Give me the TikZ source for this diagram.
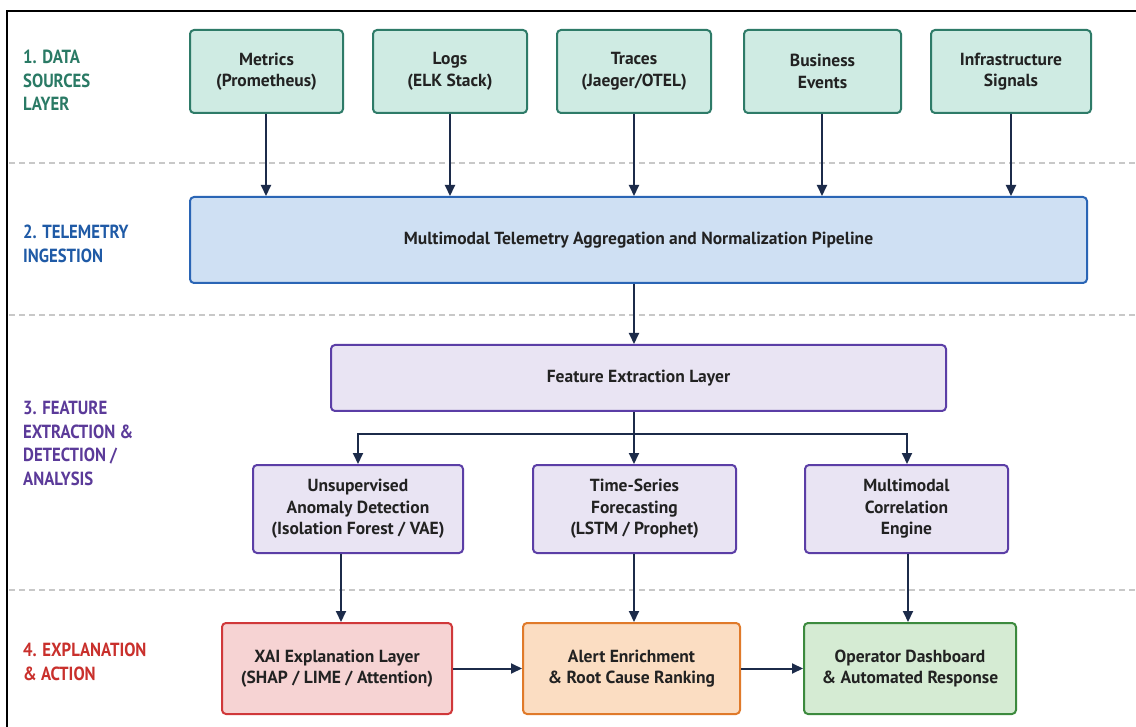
\documentclass[tikz,border=0pt]{standalone}
\usepackage{fontspec}
\setmainfont{PT Sans}
\newfontfamily\labfont{PT Sans}[FakeStretch=0.88]
\usetikzlibrary{arrows.meta}
\definecolor{tealfill}{HTML}{CFEBE3}
\definecolor{tealdraw}{HTML}{2E7B68}
\definecolor{bluefill}{HTML}{CFE0F3}
\definecolor{bluedraw}{HTML}{2A65B5}
\definecolor{purpfill}{HTML}{E9E4F3}
\definecolor{purpdraw}{HTML}{5B3EA6}
\definecolor{redfill}{HTML}{F6D3D3}
\definecolor{reddraw}{HTML}{D0383A}
\definecolor{orfill}{HTML}{FBDDC2}
\definecolor{ordraw}{HTML}{E07A2A}
\definecolor{grfill}{HTML}{D5EBD3}
\definecolor{grdraw}{HTML}{3C8A3E}
\definecolor{navy}{HTML}{1C2B4A}
\definecolor{txt}{HTML}{222222}
\definecolor{sep}{HTML}{C8C8C8}
\definecolor{labteal}{HTML}{2A7A65}
\definecolor{labblue}{HTML}{1F5AA6}
\definecolor{labpurp}{HTML}{5B3A99}
\definecolor{labred}{HTML}{C9302C}
\tikzset{
  boxbase/.style={rectangle, rounded corners=4pt, line width=2pt, inner sep=0pt, align=center, text=txt, font=\bfseries\fontsize{17.5}{21.5}\selectfont},
  srcbox/.style={boxbase, fill=tealfill, draw=tealdraw, minimum width=154pt, minimum height=83pt},
  ingbox/.style={boxbase, fill=bluefill, draw=bluedraw},
  featbox/.style={boxbase, fill=purpfill, draw=purpdraw},
  xaibox/.style={boxbase, fill=redfill, draw=reddraw},
  alertbox/.style={boxbase, fill=orfill, draw=ordraw},
  opbox/.style={boxbase, fill=grfill, draw=grdraw},
  conn/.style={draw=navy, line width=2pt, -{Triangle[width=10pt,length=11pt]}},
  seprule/.style={draw=sep, line width=1.5pt, dash pattern=on 6pt off 4pt},
  layerlab/.style={anchor=north west, align=left, inner sep=0pt, font=\labfont\bfseries\fontsize{19}{23.5}\selectfont}
}
\begin{document}
\begin{tikzpicture}[x=1pt,y=-1pt]
\useasboundingbox (0,0) rectangle (1136,727);
\fill[white] (0,0) rectangle (1136,727);
\draw[black, line width=1.5pt] (7,740) -- (7,11) -- (1150,11);
% separators
\draw[seprule] (9,163) -- (1136,163);
\draw[seprule] (9,315) -- (1136,315);
\draw[seprule] (9,590) -- (1136,590);
% layer labels
\node[layerlab, text=labteal] (L1) at (23,50) {1. DATA\\SOURCES\\LAYER};
\node[layerlab, text=labblue] (L2) at (23,225) {2. TELEMETRY\\INGESTION};
\node[layerlab, text=labpurp] (L3) at (23,401) {3. FEATURE\\EXTRACTION \&\\DETECTION /\\ANALYSIS};
\node[layerlab, text=labred] (L4) at (23,643) {4. EXPLANATION\\\& ACTION};
% sources
\node[srcbox, minimum width=153pt] (s1) at (266.5,71.5) {Metrics\\(Prometheus)};
\node[srcbox] (s2) at (450,71.5) {Logs\\(ELK Stack)};
\node[srcbox] (s3) at (634,71.5) {Traces\\(Jaeger/OTEL)};
\node[srcbox, minimum width=157pt] (s4) at (822.5,71.5) {Business\\Events};
\node[srcbox, minimum width=160pt] (s5) at (1011,71.5) {Infrastructure\\Signals};
% ingestion
\node[ingbox, minimum width=897pt, minimum height=86pt] (ing) at (638.5,240) {Multimodal Telemetry Aggregation and Normalization Pipeline};
% feature
\node[featbox, minimum width=615pt, minimum height=66pt] (feat) at (638.5,378) {Feature Extraction Layer};
\node[featbox, minimum width=210pt, minimum height=88pt] (d1) at (358,509) {Unsupervised\\Anomaly Detection\\(Isolation Forest / VAE)};
\node[featbox, minimum width=203pt, minimum height=88pt] (d2) at (634.5,509) {Time-Series\\Forecasting\\(LSTM / Prophet)};
\node[featbox, minimum width=203pt, minimum height=88pt] (d3) at (906.5,509) {Multimodal\\Correlation\\Engine};
% action
\node[xaibox, minimum width=230pt, minimum height=91pt] (a1) at (337,668.5) {XAI Explanation Layer\\(SHAP / LIME / Attention)};
\node[alertbox, minimum width=217pt, minimum height=91pt] (a2) at (631.5,668.5) {Alert Enrichment\\\& Root Cause Ranking};
\node[opbox, minimum width=212pt, minimum height=91pt] (a3) at (910,668.5) {Operator Dashboard\\\& Automated Response};
% connectors
\foreach \s/\x in {s1/266,s2/450,s3/634,s4/822,s5/1011}
  \draw[conn] (\s.south -| \x,0) -- (ing.north -| \x,0);
\draw[conn] (ing.south -| 634,0) -- (feat.north -| 634,0);
\coordinate (br) at (634,434);
\draw[draw=navy, line width=2pt] (feat.south -| 634,0) -- (br);
\draw[conn] (br) -| (d1.north);
\draw[conn] (br) -- (d2.north -| br);
\draw[conn] (br) -| (d3.north -| 907,0);
\draw[conn] (d1.south -| 341,0) -- (a1.north -| 341,0);
\draw[conn] (d2.south -| 634,0) -- (a2.north -| 634,0);
\draw[conn] (d3.south -| 908,0) -- (a3.north -| 908,0);
\draw[conn] (a1.east) -- (a2.west);
\draw[conn] (a2.east) -- (a3.west);
\end{tikzpicture}
\end{document}
